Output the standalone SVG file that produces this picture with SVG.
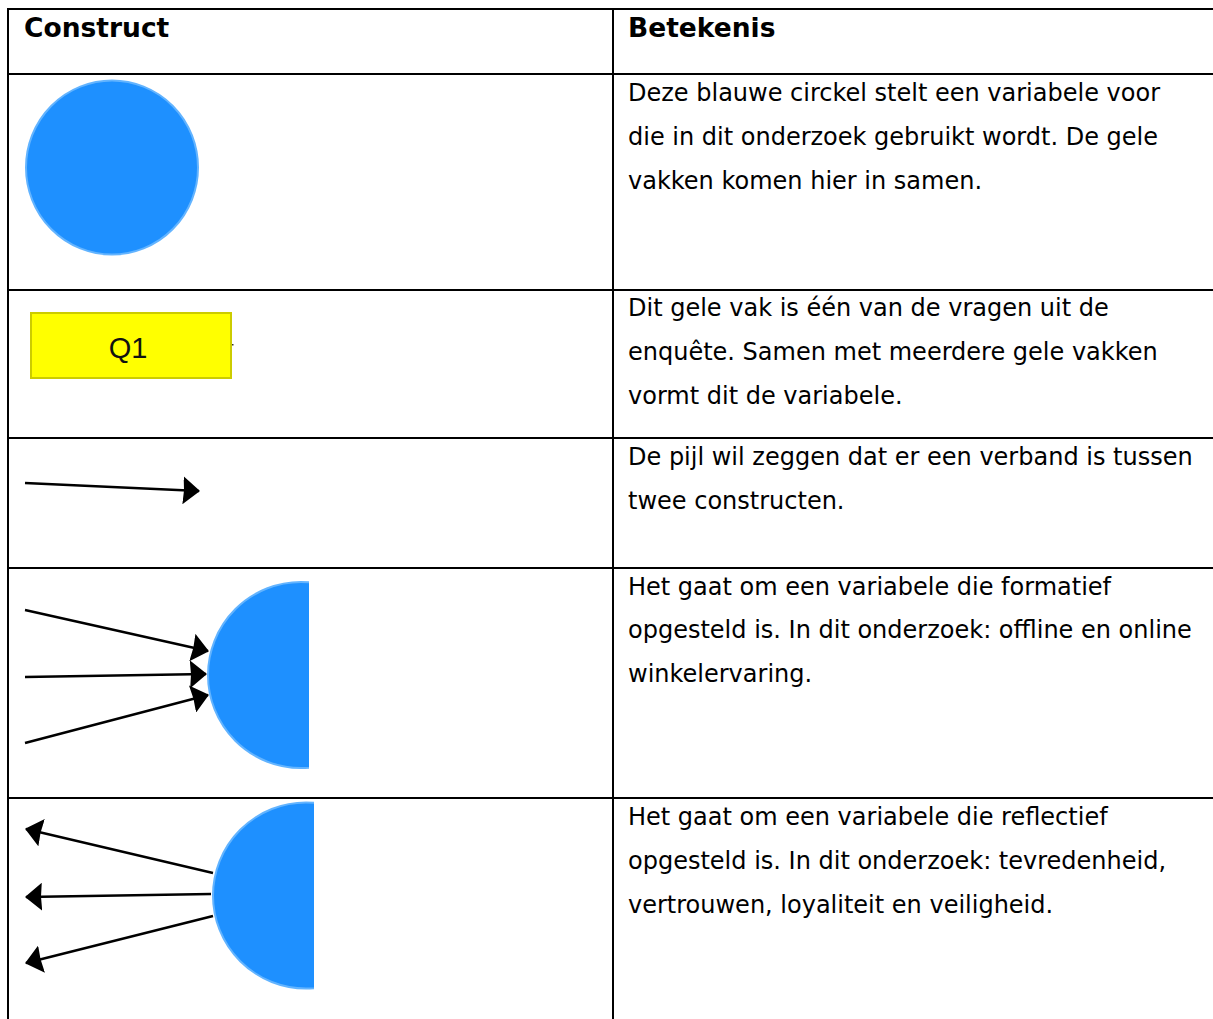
<svg xmlns="http://www.w3.org/2000/svg" width="1213" height="1019" viewBox="0 0 1213 1019">
  <style>
    .grid { stroke: #000; stroke-width: 2; fill: none; }
    .head { font-family: "DejaVu Sans", Verdana, sans-serif; font-weight: bold; font-size: 26.5px; fill: #000; }
    .body { font-family: "DejaVu Sans", Verdana, sans-serif; font-size: 24px; fill: #000; }
    .var { fill: #1E90FF; stroke: #63B4FF; stroke-width: 2; }
    .item { fill: #FFFF00; stroke: #CCCC00; stroke-width: 2; }
    .lbl { font-family: "Liberation Sans", Arial, sans-serif; font-size: 29px; fill: #111; }
    .edge { stroke: #000; stroke-width: 2.4; fill: none; }
  </style>
  <defs>
    <marker id="head" markerUnits="userSpaceOnUse" viewBox="0 0 17 28" markerWidth="17" markerHeight="28" refX="16" refY="14" orient="auto">
      <path d="M0,0 L17,14 L0,28 L1,14 Z" fill="#000"/>
    </marker>
    <clipPath id="clipA"><rect x="150" y="560" width="159" height="220"/></clipPath>
    <clipPath id="clipB"><rect x="150" y="790" width="164" height="220"/></clipPath>
  </defs>

  <rect width="1213" height="1019" fill="#fff"/>

  <!-- table rules -->
  <g id="table">
    <line class="grid" x1="8" y1="9" x2="1213" y2="9"/>
    <line class="grid" x1="8" y1="74" x2="1213" y2="74"/>
    <line class="grid" x1="8" y1="290" x2="1213" y2="290"/>
    <line class="grid" x1="8" y1="438" x2="1213" y2="438"/>
    <line class="grid" x1="8" y1="568" x2="1213" y2="568"/>
    <line class="grid" x1="8" y1="798" x2="1213" y2="798"/>
    <line class="grid" x1="8" y1="8" x2="8" y2="1019"/>
    <line class="grid" x1="613" y1="8" x2="613" y2="1019"/>
  </g>

  <!-- column headings -->
  <g id="headings">
    <text class="head" x="24" y="37">Construct</text>
    <text class="head" x="628" y="37">Betekenis</text>
  </g>

  <!-- constructs -->
  <g id="variable">
    <ellipse class="var" cx="112" cy="167.5" rx="86" ry="87"/>
  </g>

  <g id="question">
    <rect class="item" x="31" y="313" width="200" height="65"/>
    <text class="lbl" x="128" y="358" text-anchor="middle">Q1</text>
    <rect x="232" y="344" width="1.5" height="1.5" fill="#333"/>
  </g>

  <g id="formative">
    <circle class="var" cx="301" cy="675" r="93" clip-path="url(#clipA)"/>
  </g>

  <g id="reflective">
    <circle class="var" cx="306" cy="895.5" r="93" clip-path="url(#clipB)"/>
  </g>

  <!-- connectors -->
  <g id="connectors">
    <line class="edge" x1="25" y1="483" x2="199" y2="491" marker-end="url(#head)"/>

    <line class="edge" x1="25" y1="610" x2="208" y2="651" marker-end="url(#head)"/>
    <line class="edge" x1="25" y1="677" x2="206" y2="674" marker-end="url(#head)"/>
    <line class="edge" x1="25" y1="743" x2="208" y2="695" marker-end="url(#head)"/>

    <line class="edge" x1="213" y1="873" x2="26" y2="829" marker-end="url(#head)"/>
    <line class="edge" x1="211" y1="894" x2="26" y2="897" marker-end="url(#head)"/>
    <line class="edge" x1="213" y1="916" x2="26" y2="963" marker-end="url(#head)"/>
  </g>

  <!-- descriptions -->
  <g id="descriptions">
    <text class="body" x="628" y="101">Deze blauwe circkel stelt een variabele voor</text>
    <text class="body" x="628" y="145">die in dit onderzoek gebruikt wordt. De gele</text>
    <text class="body" x="628" y="189">vakken komen hier in samen.</text>

    <text class="body" x="628" y="316">Dit gele vak is één van de vragen uit de</text>
    <text class="body" x="628" y="360">enquête. Samen met meerdere gele vakken</text>
    <text class="body" x="628" y="404">vormt dit de variabele.</text>

    <text class="body" x="628" y="465">De pijl wil zeggen dat er een verband is tussen</text>
    <text class="body" x="628" y="509">twee constructen.</text>

    <text class="body" x="628" y="595">Het gaat om een variabele die formatief</text>
    <text class="body" x="628" y="638">opgesteld is. In dit onderzoek: offline en online</text>
    <text class="body" x="628" y="682">winkelervaring.</text>

    <text class="body" x="628" y="825">Het gaat om een variabele die reflectief</text>
    <text class="body" x="628" y="869">opgesteld is. In dit onderzoek: tevredenheid,</text>
    <text class="body" x="628" y="913">vertrouwen, loyaliteit en veiligheid.</text>
  </g>
</svg>
